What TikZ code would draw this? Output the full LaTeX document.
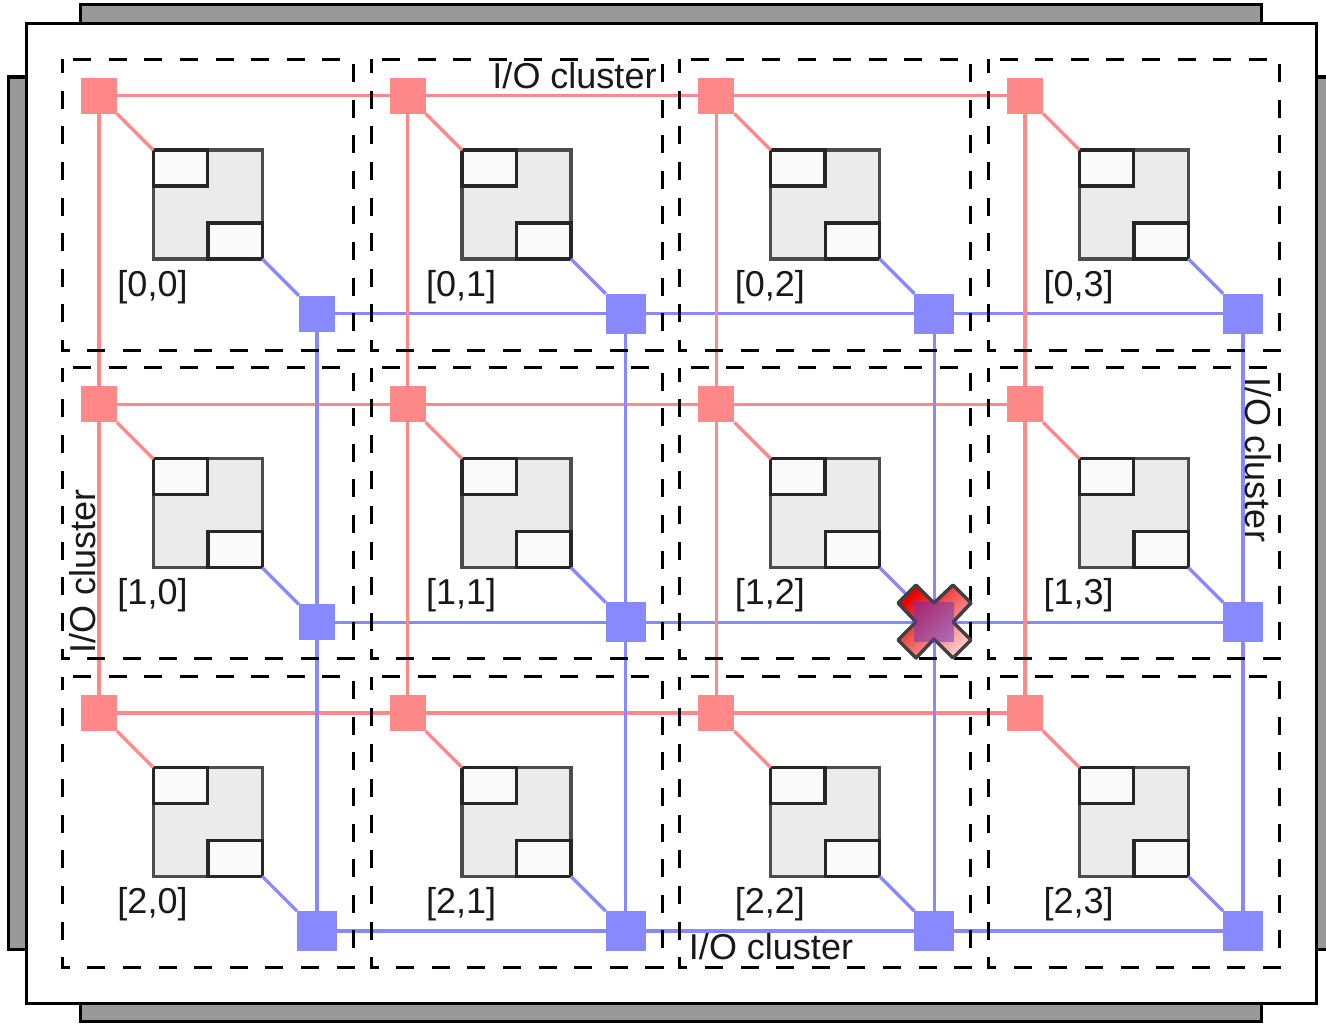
\documentclass[tikz,border=0pt]{standalone}
\usepackage{fontspec}
\setmainfont{Liberation Sans}
\definecolor{redc}{HTML}{FF8888}
\definecolor{bluec}{HTML}{8888FF}
\definecolor{barc}{HTML}{999999}
\definecolor{overlayc}{RGB}{100,50,190}
\tikzset{
  bar/.style={draw=black,fill=barc,line width=2.25pt},
  redsq/.style={fill=redc,minimum size=27pt,inner sep=0pt,outer sep=0pt},
  bluesq/.style={fill=bluec,minimum size=30pt,inner sep=0pt,outer sep=0pt},
  bluesm/.style={minimum size=27pt},
  chip/.style={draw=black!70,fill=black!8,line width=2.4pt,minimum size=81.75pt,inner sep=0pt,outer sep=0pt},
  subbox/.style={draw=black!85,fill=black!2,line width=2.4pt,minimum width=40.75pt,minimum height=27pt,inner sep=0pt,outer sep=0pt},
  redline/.style={draw=redc,line width=2.5pt},
  blueline/.style={draw=bluec,line width=2.5pt},
  dashbox/.style={draw=black,line width=2.25pt,dash pattern=on 13.5pt off 13.2pt,dash phase=18.5pt},
  lbl/.style={font=\fontsize{27}{27}\selectfont,inner sep=0pt,anchor=base,text=black!90}
}
\begin{document}
\begin{tikzpicture}[x=0.75pt,y=-0.75pt]
\useasboundingbox (0,0) rectangle (1326,1024);
\clip (0,0) rectangle (1326,1024);
% package edges
\draw[bar] (8,77) rectangle (60,949);
\draw[bar] (1290,77) rectangle (1340,949);
\draw[bar] (80.5,5) rectangle (1261.5,60);
\draw[bar] (80.5,980) rectangle (1261.5,1021.5);
\draw[draw=black,fill=white,line width=2.25pt] (26,23.5) rectangle (1316,1003.5);
% nodes
\foreach \i in {0,1,2}{
  \foreach \j in {0,1,2,3}{
    \pgfmathsetmacro{\px}{99+308.7*\j}
    \pgfmathsetmacro{\py}{95.7+308.7*\i}
    \pgfmathsetmacro{\cx}{207.8+308.7*\j}
    \pgfmathsetmacro{\cy}{204.5+308.7*\i}
    \pgfmathsetmacro{\bx}{317+308.7*\j}
    \pgfmathsetmacro{\by}{313.7+308.7*\i}
    \node[redsq] (r\i\j) at (\px,\py) {};
    \node[chip] (c\i\j) at (\cx,\cy) {};
    \node[subbox,anchor=north west] (s\i\j) at (c\i\j.north west) {};
    \node[subbox,anchor=south east] (t\i\j) at (c\i\j.south east) {};
    \pgfmathtruncatemacro{\small}{(\j==0)&&(\i<2)}
    \ifnum\small=1
      \node[bluesq,bluesm] (b\i\j) at (\bx,\by) {};
    \else
      \node[bluesq] (b\i\j) at (\bx,\by) {};
    \fi
    \draw[redline] (r\i\j.south east) -- (c\i\j.north west);
    \draw[blueline] (c\i\j.south east) -- (b\i\j.north west);
    \pgfmathsetmacro{\tx}{152.5+308.7*\j}
    \pgfmathsetmacro{\ty}{296+308.7*\i}
    \node[lbl] (l\i\j) at (\tx,\ty) {[\i,\j]};
  }
}
% connectors
\foreach \i in {0,1,2}{
  \foreach \j/\k in {0/1,1/2,2/3}{
    \draw[redline] (r\i\j) -- (r\i\k);
    \draw[blueline] (b\i\j) -- (b\i\k);
  }
}
\foreach \j in {0,1,2,3}{
  \foreach \i/\k in {0/1,1/2}{
    \draw[redline] (r\i\j) -- (r\k\j);
    \draw[blueline] (b\i\j) -- (b\k\j);
  }
}
% cluster boxes
\foreach \i in {0,1,2}{
  \foreach \j in {0,1,2,3}{
    \pgfmathsetmacro{\xa}{62.2+308.8*\j}
    \pgfmathsetmacro{\xb}{\xa+291}
    \pgfmathsetmacro{\ya}{59.3+308.6*\i}
    \pgfmathsetmacro{\yb}{\ya+291}
    \draw[dashbox] (\xa,\ya) -- (\xb,\ya) -- (\xb,\yb) -- (\xa,\yb) -- cycle;
  }
}
% labels
\node[lbl] (io1) at (574.5,89) {I/O cluster};
\node[lbl] (io2) at (771,959.5) {I/O cluster};
\node[lbl,rotate=90] (io3) at (95,571) {I/O cluster};
\node[lbl,rotate=-90] (io4) at (1245.5,460) {I/O cluster};
% failure mark
\shade[top color=red!90!black,bottom color=red!22,shading angle=45,draw=black!75,line width=2.6pt,line join=round]
  (916,585) -- (934,603) -- (953,585) -- (971,603) -- (953,622) -- (971,640) -- (953,658) -- (934,639) -- (916,658) -- (898,640) -- (916,622) -- (898,603) -- cycle;
\fill[overlayc,opacity=.5] (b12.south west) rectangle (b12.north east);
\end{tikzpicture}
\end{document}
